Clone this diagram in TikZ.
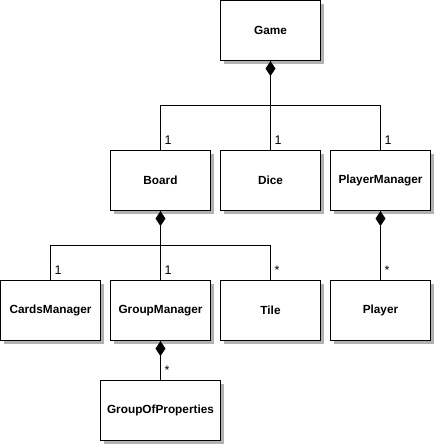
\documentclass[tikz,border=0pt]{standalone}
\usepackage{fontspec}
\setmainfont{Liberation Sans}
\usetikzlibrary{shadows}
\tikzset{
  cls/.style={draw=black, line width=1pt, fill=white, minimum width=100pt, minimum height=60pt, inner sep=0pt,
    font=\fontsize{11.8}{13}\selectfont\bfseries,
    drop shadow={shadow xshift=3.5pt, shadow yshift=-3.5pt, fill=black!30, opacity=1}},
  conn/.style={draw=black, line width=1pt},
  lbl/.style={anchor=base west, inner sep=0pt, font=\fontsize{12.5}{14}\selectfont, xshift=4pt, yshift=6pt}
}
\begin{document}
\begin{tikzpicture}[x=1pt,y=-1pt]
\useasboundingbox (0,0) rectangle (435,445);
\node[cls] (game) at (270.5,30.5) {Game};
\node[cls] (board) at (160.5,180.5) {Board};
\node[cls] (dice) at (270.5,180.5) {Dice};
\node[cls] (pm) at (380.5,180.5) {PlayerManager};
\node[cls] (cards) at (50.5,310.5) {CardsManager};
\node[cls] (gm) at (160.5,310.5) {GroupManager};
\node[cls] (tile) at (270.5,310.5) {Tile};
\node[cls] (player) at (380.5,310.5) {Player};
\node[cls, minimum width=120pt] (gop) at (160.5,410.5) {GroupOfProperties};
% Game composition
\coordinate (gj) at (270.5,105.5);
\draw[conn] (game.south) -- (gj);
\draw[conn] (board.north) |- (gj);
\draw[conn] (dice.north) -- (gj);
\draw[conn] (pm.north) |- (gj);
\fill[black] (game.south) -- ++(-5,7.5) -- ++(5,7.5) -- ++(5,-7.5) -- cycle;
\node[lbl] at (board.north) {1};
\node[lbl] at (dice.north) {1};
\node[lbl] at (pm.north) {1};
% Board composition
\coordinate (bj) at (160.5,245.5);
\draw[conn] (board.south) -- (bj);
\draw[conn] (cards.north) |- (bj);
\draw[conn] (gm.north) -- (bj);
\draw[conn] (tile.north) |- (bj);
\fill[black] (board.south) -- ++(-5,7.5) -- ++(5,7.5) -- ++(5,-7.5) -- cycle;
\node[lbl] at (cards.north) {1};
\node[lbl] at (gm.north) {1};
\node[lbl] at (tile.north) {*};
% PlayerManager composition
\draw[conn] (pm.south) -- (player.north);
\fill[black] (pm.south) -- ++(-5,7.5) -- ++(5,7.5) -- ++(5,-7.5) -- cycle;
\node[lbl] at (player.north) {*};
% GroupManager composition
\draw[conn] (gm.south) -- (gop.north);
\fill[black] (gm.south) -- ++(-5,7.5) -- ++(5,7.5) -- ++(5,-7.5) -- cycle;
\node[lbl] at (gop.north) {*};
\end{tikzpicture}
\end{document}
